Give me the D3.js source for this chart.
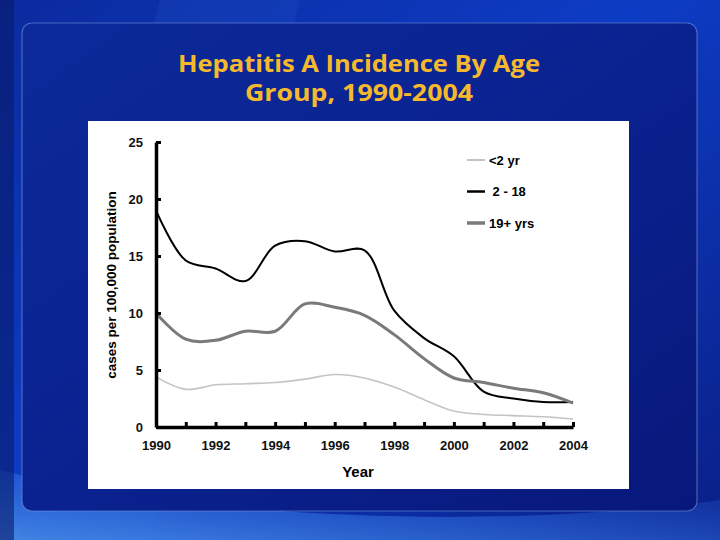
<!DOCTYPE html>
<html>
<head>
<meta charset="utf-8">
<script src="https://cdn.jsdelivr.net/npm/d3@7"></script>
<style>
  html, body { margin: 0; padding: 0; background: #0a2a9a; }
  svg { display: block; }
</style>
</head>
<body>
<svg id="chart" width="720" height="540"></svg>
<script>
// values (cases per 100,000)
var years = [1990, 1991, 1992, 1993, 1994, 1995, 1996, 1997, 1998, 1999, 2000, 2001, 2002, 2003, 2004];
var under2 = [4.4, 3.3, 3.7, 3.8, 3.9, 4.2, 4.6, 4.3, 3.5, 2.4, 1.4, 1.1, 1.0, 0.9, 0.7];
var age2to18 = [19.0, 14.6, 13.9, 12.8, 15.9, 16.3, 15.4, 15.5, 10.2, 7.8, 6.2, 3.1, 2.5, 2.2, 2.2];
var age19plus = [10.0, 7.7, 7.6, 8.4, 8.4, 10.8, 10.5, 9.8, 8.1, 6.0, 4.3, 3.9, 3.4, 3.0, 2.1];
var seriesNames = ["<2 yr", " 2 - 18", "19+ yrs"];
var yTicks = [0, 5, 10, 15, 20, 25];
var xLabelYears = [1990, 1992, 1994, 1996, 1998, 2000, 2002, 2004];
var titleLines = ["Hepatitis A Incidence By Age", "Group, 1990-2004"];

var series = [
    { name: seriesNames[0], values: under2, color: "#c4c4c4", width: 1.6 },
    { name: seriesNames[1], values: age2to18, color: "#000000", width: 2 },
    { name: seriesNames[2], values: age19plus, color: "#7a7a7a", width: 3 }
];

var svg = d3.select("#chart");
var defs = svg.append("defs");

// slide background
var bg = defs.append("linearGradient").attr("id", "bg")
    .attr("x1", "0").attr("y1", "0").attr("x2", "1").attr("y2", "1");
bg.append("stop").attr("offset", "0").attr("stop-color", "#0b2a9e");
bg.append("stop").attr("offset", "0.45").attr("stop-color", "#0d3cc4");
bg.append("stop").attr("offset", "1").attr("stop-color", "#0a1f86");
svg.append("rect").attr("width", 720).attr("height", 540).attr("fill", "url(#bg)");

var streak = defs.append("linearGradient").attr("id", "streak")
    .attr("x1", "0").attr("y1", "1").attr("x2", "1").attr("y2", "0");
streak.append("stop").attr("offset", "0").attr("stop-color", "#4a8ee8").attr("stop-opacity", 0.9);
streak.append("stop").attr("offset", "0.5").attr("stop-color", "#2f6fe0").attr("stop-opacity", 0.5);
streak.append("stop").attr("offset", "1").attr("stop-color", "#1a50d0").attr("stop-opacity", 0.1);
svg.append("path").attr("d", "M0,470 L0,540 L720,540 L720,500 C500,530 200,520 0,470 Z")
    .attr("fill", "url(#streak)");
svg.append("path").attr("d", "M160,0 L300,0 L150,540 L20,540 Z")
    .attr("fill", "#3a7ae8").attr("opacity", 0.12);
svg.append("rect").attr("x", 0).attr("y", 0).attr("width", 14).attr("height", 540)
    .attr("fill", "#081a6a").attr("opacity", 0.6);

// inner panel
var panel = defs.append("linearGradient").attr("id", "panel")
    .attr("x1", "0").attr("y1", "0").attr("x2", "1").attr("y2", "1");
panel.append("stop").attr("offset", "0").attr("stop-color", "#0c2a9a");
panel.append("stop").attr("offset", "0.5").attr("stop-color", "#0a2290");
panel.append("stop").attr("offset", "1").attr("stop-color", "#08187a");
svg.append("rect").attr("x", 22).attr("y", 23).attr("width", 675).attr("height", 488).attr("rx", 10)
    .attr("fill", "url(#panel)").attr("stroke", "#6f8fe0").attr("stroke-opacity", 0.6).attr("stroke-width", 1.2);

// title
svg.selectAll("text.title").data(titleLines).join("text")
    .attr("class", "title")
    .attr("x", 359).attr("y", (d, i) => 72 + i * 29)
    .attr("text-anchor", "middle")
    .attr("textLength", (d, i) => i === 0 ? 362 : 228)
    .attr("lengthAdjust", "spacingAndGlyphs")
    .style("font-family", "'Open Sans', 'Noto Sans', sans-serif")
    .style("font-weight", "bold").style("font-size", "23px")
    .style("fill", "#f6b92c")
    .text(d => d);

// white chart area
svg.append("rect").attr("x", 88).attr("y", 121).attr("width", 541).attr("height", 368).attr("fill", "#ffffff");

var x = d3.scaleLinear().domain([1990, 2004]).range([156, 573]);
var y = d3.scaleLinear().domain([0, 25]).range([427, 142]);

var font = "'Liberation Sans', Arial, sans-serif";

var line = d3.line()
    .x((d, i) => x(years[i]))
    .y(d => y(d))
    .curve(d3.curveCatmullRom.alpha(0.5));

svg.append("g").selectAll("path").data(series).join("path")
    .attr("d", d => line(d.values))
    .attr("fill", "none")
    .attr("stroke", d => d.color)
    .attr("stroke-width", d => d.width)
    .attr("stroke-linejoin", "round");

// y axis
var yAxis = svg.append("g").attr("transform", "translate(156,0)")
    .call(d3.axisLeft(y).tickValues(yTicks).tickSizeInner(-5).tickSizeOuter(0).tickPadding(13));
// x axis
var xAxis = svg.append("g").attr("transform", "translate(0,427)")
    .call(d3.axisBottom(x).tickValues(years).tickSizeInner(-5).tickSizeOuter(0).tickPadding(14)
        .tickFormat(d => xLabelYears.indexOf(d) >= 0 ? d : ""));

[yAxis, xAxis].forEach(function (g) {
    g.select(".domain").attr("stroke", "#000").attr("stroke-width", 3.5);
    g.selectAll(".tick line").attr("stroke", "#000").attr("stroke-width", 3);
    g.selectAll(".tick text").style("font-family", font).style("font-weight", "bold")
        .style("font-size", "13px").attr("fill", "#111");
});

// axis titles
svg.append("text").attr("x", 358).attr("y", 477).attr("text-anchor", "middle")
    .style("font-family", font).style("font-weight", "bold").style("font-size", "15px")
    .text("Year");
svg.append("text").attr("transform", "translate(116,285) rotate(-90)").attr("text-anchor", "middle")
    .style("font-family", font).style("font-weight", "bold").style("font-size", "13.5px")
    .text("cases per 100,000 population");

// legend
var legend = svg.append("g").selectAll("g").data(series).join("g")
    .attr("transform", (d, i) => `translate(467,${160 + i * 31.5})`);
legend.append("line").attr("x1", 0).attr("x2", 18)
    .attr("stroke", d => d.color).attr("stroke-width", d => d.width + 0.5);
legend.append("text").attr("x", 22).attr("y", 4.5)
    .style("font-family", font).style("font-weight", "bold").style("font-size", "13px")
    .style("white-space", "pre").attr("xml:space", "preserve")
    .text(d => d.name);
</script>
</body>
</html>
